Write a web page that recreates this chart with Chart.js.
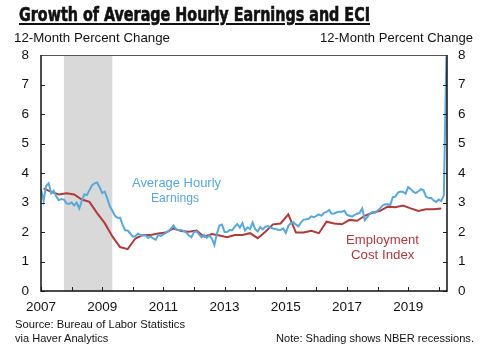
<!DOCTYPE html>
<html>
<head>
<meta charset="utf-8">
<script src="https://cdn.jsdelivr.net/npm/chart.js@4.4.1/dist/chart.umd.min.js"></script>
<style>
  html, body { margin: 0; padding: 0; background: #fff; }
  #wrap { position: relative; width: 481px; height: 358px; overflow: hidden; }
  #chart { position: absolute; left: 0; top: 0; }
  .txt { position: absolute; white-space: nowrap; line-height: 1; font-family: "Liberation Sans", Arial, sans-serif; color: #111; transform-origin: left center; }
  #title { font-family: "Liberation Sans Narrow", "DejaVu Sans Condensed", "Liberation Sans", sans-serif; font-weight: bold; -webkit-text-stroke: 0.6px #111; text-decoration: underline; text-decoration-thickness: 2px; text-underline-offset: 2px; }
  .blue { color: #5aa7da; }
  .red { color: #ae3b3b; }
</style>
</head>
<body>
<div id="wrap">
  <canvas id="chart" width="481" height="358"></canvas>
  <div class="txt" id="title">Growth of Average Hourly Earnings and ECI</div>
  <div class="txt" id="axisL">12-Month Percent Change</div>
  <div class="txt" id="axisR">12-Month Percent Change</div>
  <div class="txt blue" id="aheLab1">Average Hourly</div>
  <div class="txt blue" id="aheLab2">Earnings</div>
  <div class="txt red" id="eciLab1">Employment</div>
  <div class="txt red" id="eciLab2">Cost Index</div>
  <div class="txt" id="src1">Source: Bureau of Labor Statistics</div>
  <div class="txt" id="src2">via Haver Analytics</div>
  <div class="txt" id="note">Note: Shading shows NBER recessions.</div>
</div>
<script>
// 平均時薪 (AHE) 12 個月變動率，月資料，自 2007 年 1 月起
const aheStart = 2007;
const aheValues = [
  3.45, 3.06, 3.56, 3.65, 3.31, 3.40, 3.20, 3.08, 3.12, 3.10, 2.97, 2.95, // 2007
  3.00, 2.90, 3.00, 2.80, 3.05, 3.28, 3.25, 3.42, 3.58, 3.65, 3.68, 3.52, // 2008
  3.32, 3.37, 3.14, 2.87, 2.72, 2.55, 2.48, 2.48, 2.25, 2.06, 2.05, 1.95, // 2009
  1.84, 1.86, 1.94, 1.90, 1.88, 1.89, 1.80, 1.85, 1.78, 1.74, 1.90, 1.87, // 2010
  1.92, 1.97, 2.03, 2.12, 2.22, 2.08, 2.07, 2.07, 2.03, 1.98, 1.88, 1.82, // 2011
  2.00, 2.02, 1.92, 1.82, 1.90, 1.80, 1.88, 1.78, 1.56, 1.95, 2.22, 2.25, // 2012
  2.00, 2.00, 2.07, 2.06, 2.18, 2.27, 2.15, 2.30, 2.05, 2.16, 2.10, 2.32, // 2013
  2.10, 2.02, 2.17, 2.09, 2.18, 2.20, 2.15, 2.12, 2.10, 2.08, 2.07, 2.12, // 2014
  1.97, 2.20, 2.30, 2.33, 2.25, 2.19, 2.33, 2.42, 2.43, 2.45, 2.53, 2.50, // 2015
  2.55, 2.60, 2.55, 2.65, 2.68, 2.75, 2.62, 2.63, 2.67, 2.69, 2.69, 2.72, // 2016
  2.58, 2.55, 2.52, 2.58, 2.62, 2.65, 2.80, 2.40, 2.50, 2.62, 2.68, 2.65, // 2017
  2.72, 2.80, 2.90, 2.94, 2.94, 2.92, 3.18, 3.20, 3.34, 3.37, 3.36, 3.30, // 2018
  3.52, 3.46, 3.37, 3.32, 3.38, 3.45, 3.42, 3.20, 3.15, 3.15, 3.07, 3.02, // 2019
  3.10, 3.05, 3.25, 7.95                                                  // 2020
];

// 僱用成本指數 (ECI) 12 個月變動率，季資料，自 2007 年第 1 季起
const eciStart = 2007;
const eciValues = [
  3.48, 3.36, 3.27, 3.31,  // 2007
  3.27, 3.10, 3.02, 2.64,  // 2008
  2.30, 1.85, 1.49, 1.42,  // 2009
  1.78, 1.90, 1.90, 1.95,  // 2010
  1.98, 2.12, 2.03, 2.01,  // 2011
  2.05, 1.84, 1.93, 1.88,  // 2012
  1.82, 1.90, 1.90, 1.96,  // 2013
  1.79, 2.01, 2.26, 2.29,  // 2014
  2.60, 1.98, 1.98, 2.04,  // 2015
  1.96, 2.35, 2.29, 2.26,  // 2016
  2.41, 2.38, 2.55, 2.65,  // 2017
  2.72, 2.86, 2.84, 2.90,  // 2018
  2.80, 2.71, 2.77, 2.77,  // 2019
  2.80                     // 2020
];

// 刻度與衰退期
const yearTicks = [2007, 2008, 2009, 2010, 2011, 2012, 2013, 2014, 2015, 2016, 2017, 2018, 2019, 2020];
const yTicks = [0, 1, 2, 3, 4, 5, 6, 7, 8];
const recessions = [[2007.75, 2009.33]];

const AHE_COLOR = '#5aa7da';
const ECI_COLOR = '#ae3b3b';

const ahePoints = aheValues.map((v, i) => ({ x: aheStart + i / 12, y: v }));
const eciPoints = eciValues.map((v, i) => ({ x: eciStart + (i * 3 + 1) / 12, y: v }));

// 衰退期陰影 + 外框與內向刻度
const framePlugin = {
    id: 'frame',
    beforeDatasetsDraw(chart) {
        const { ctx, chartArea: a, scales } = chart;
        ctx.save();
        ctx.fillStyle = '#d9d9d9';
        recessions.forEach(([s, e]) => {
            const x0 = scales.x.getPixelForValue(s);
            const x1 = scales.x.getPixelForValue(e);
            ctx.fillRect(x0, a.top, x1 - x0, a.bottom - a.top);
        });
        ctx.restore();
    },
    afterDatasetsDraw(chart) {
        const { ctx, chartArea: a, scales } = chart;
        ctx.save();
        ctx.strokeStyle = '#222';
        ctx.lineWidth = 1;
        ctx.beginPath();
        yearTicks.forEach(v => {
            const x = Math.round(scales.x.getPixelForValue(v)) + 0.5;
            ctx.moveTo(x, a.bottom);
            ctx.lineTo(x, a.bottom - 4);
        });
        yTicks.forEach(v => {
            const y = Math.round(scales.y.getPixelForValue(v)) + 0.5;
            ctx.moveTo(a.left, y);
            ctx.lineTo(a.left + 4, y);
            ctx.moveTo(a.right, y);
            ctx.lineTo(a.right - 4, y);
        });
        ctx.stroke();
        ctx.strokeStyle = '#555';
        ctx.beginPath();
        ctx.moveTo(a.left, a.top + 0.5);
        ctx.lineTo(a.right, a.top + 0.5);
        ctx.stroke();
        ctx.strokeStyle = '#111';
        ctx.lineWidth = 1.5;
        ctx.beginPath();
        ctx.moveTo(a.left, a.top);
        ctx.lineTo(a.left, a.bottom);
        ctx.lineTo(a.right, a.bottom);
        ctx.lineTo(a.right, a.top);
        ctx.stroke();
        ctx.restore();
    }
};

const tickFont = { family: '"Liberation Sans", Arial, sans-serif', size: 13.5 };

new Chart(document.getElementById('chart'), {
    type: 'line',
    data: {
        datasets: [
            { label: 'Average Hourly Earnings', data: ahePoints, borderColor: AHE_COLOR, borderWidth: 2, pointRadius: 0, tension: 0, yAxisID: 'y' },
            { label: 'Employment Cost Index', data: eciPoints, borderColor: ECI_COLOR, borderWidth: 2, pointRadius: 0, tension: 0, yAxisID: 'y' }
        ]
    },
    options: {
        responsive: false,
        animation: false,
        devicePixelRatio: 1,
        layout: { padding: { top: 55, left: 0, right: 0, bottom: 42 } },
        plugins: { legend: { display: false }, tooltip: { enabled: false } },
        scales: {
            x: {
                type: 'linear',
                min: 2007,
                max: 2020.27,
                afterBuildTicks: s => { s.ticks = yearTicks.map(v => ({ value: v })); },
                afterFit: s => { s.height = 25; },
                grid: { display: false, drawTicks: false },
                border: { display: false },
                ticks: {
                    padding: 8,
                    maxRotation: 0,
                    autoSkip: false,
                    color: '#111',
                    font: tickFont,
                    callback: v => (v % 2 === 1 ? String(v) : '')
                }
            },
            y: {
                position: 'left',
                min: 0,
                max: 8,
                afterBuildTicks: s => { s.ticks = yTicks.map(v => ({ value: v })); },
                afterFit: s => { s.width = 41; },
                grid: { display: false, drawTicks: false },
                border: { display: false },
                ticks: { padding: 12, color: '#111', font: tickFont }
            },
            y2: {
                position: 'right',
                min: 0,
                max: 8,
                afterBuildTicks: s => { s.ticks = yTicks.map(v => ({ value: v })); },
                afterFit: s => { s.width = 34; },
                grid: { display: false, drawTicks: false },
                border: { display: false },
                ticks: { padding: 11, color: '#111', font: tickFont }
            }
        }
    },
    plugins: [framePlugin]
});

// 文字定位：左緣、寬度、字中心高度、字級
const labels = [
    ['title', 19, 351, 15, 19.5],
    ['axisL', 14, 156, 38, 13.3],
    ['axisR', 320, 153, 38, 13.3],
    ['aheLab1', 131.5, 89, 182, 13],
    ['aheLab2', 150.5, 48, 197.5, 13],
    ['eciLab1', 346, 73, 239.5, 13],
    ['eciLab2', 351, 63.5, 254, 13],
    ['src1', 15, 170, 324.5, 11.2],
    ['src2', 15, 93.3, 339, 11.2],
    ['note', 276, 198, 339, 11.2]
];
labels.forEach(([id, left, width, cy, size]) => {
    const el = document.getElementById(id);
    el.style.fontSize = size + 'px';
    el.style.left = left + 'px';
    el.style.top = (cy - size / 2) + 'px';
    const w = el.getBoundingClientRect().width;
    el.style.transform = 'scaleX(' + (width / w) + ')';
});
</script>
</body>
</html>
